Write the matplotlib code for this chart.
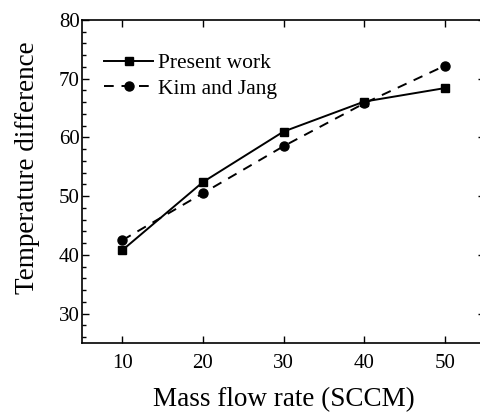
import matplotlib
matplotlib.use("Agg")
import matplotlib.pyplot as plt
from matplotlib.ticker import MultipleLocator

plt.rcParams['font.family'] = ['Liberation Serif', 'DejaVu Serif']

flow_rate = [10, 20, 30, 40, 50]
present_work = [40.8, 52.4, 61.0, 66.1, 68.4]
kim_and_jang = [42.5, 50.5, 58.5, 65.8, 72.2]

fig = plt.figure(figsize=(4.81, 4.15), dpi=100)
ax = fig.add_axes([0.1705, 0.1735, 0.8378, 0.7783])

ax.plot(flow_rate, present_work, '-', color='black', marker='s', markersize=6,
        linewidth=1.4, label='Present work')
ax.plot(flow_rate, kim_and_jang, '--', color='black', marker='o', markersize=6.5,
        linewidth=1.4, dashes=(5, 4), label='Kim and Jang')

ax.set_xlim(5, 55)
ax.set_ylim(25, 80)
ax.xaxis.set_major_locator(MultipleLocator(10))
ax.yaxis.set_major_locator(MultipleLocator(10))
ax.yaxis.set_minor_locator(MultipleLocator(2))
ax.set_yticks([30, 40, 50, 60, 70, 80])

ax.tick_params(which='both', direction='in', top=True, right=True, labelsize=15,
               width=1.0, color='black')
ax.tick_params(which='major', length=5)
ax.tick_params(axis='x', which='major', pad=8)
ax.tick_params(axis='y', which='major', pad=1.5)
ax.tick_params(which='minor', length=3)
for s in ax.spines.values():
    s.set_linewidth(1.2)

ax.set_xlabel('Mass flow rate (SCCM)', fontsize=19.5, labelpad=10)
ax.set_ylabel('Temperature difference', fontsize=19.5, labelpad=13.5)
ax.yaxis.label.set_y(0.542)

ax.legend(loc='upper left', bbox_to_anchor=(0.033, 0.924), frameon=False, fontsize=15.5,
          handlelength=2.3, handletextpad=0.2, labelspacing=0.25, borderaxespad=0)

fig.savefig('out.png', dpi=100)
